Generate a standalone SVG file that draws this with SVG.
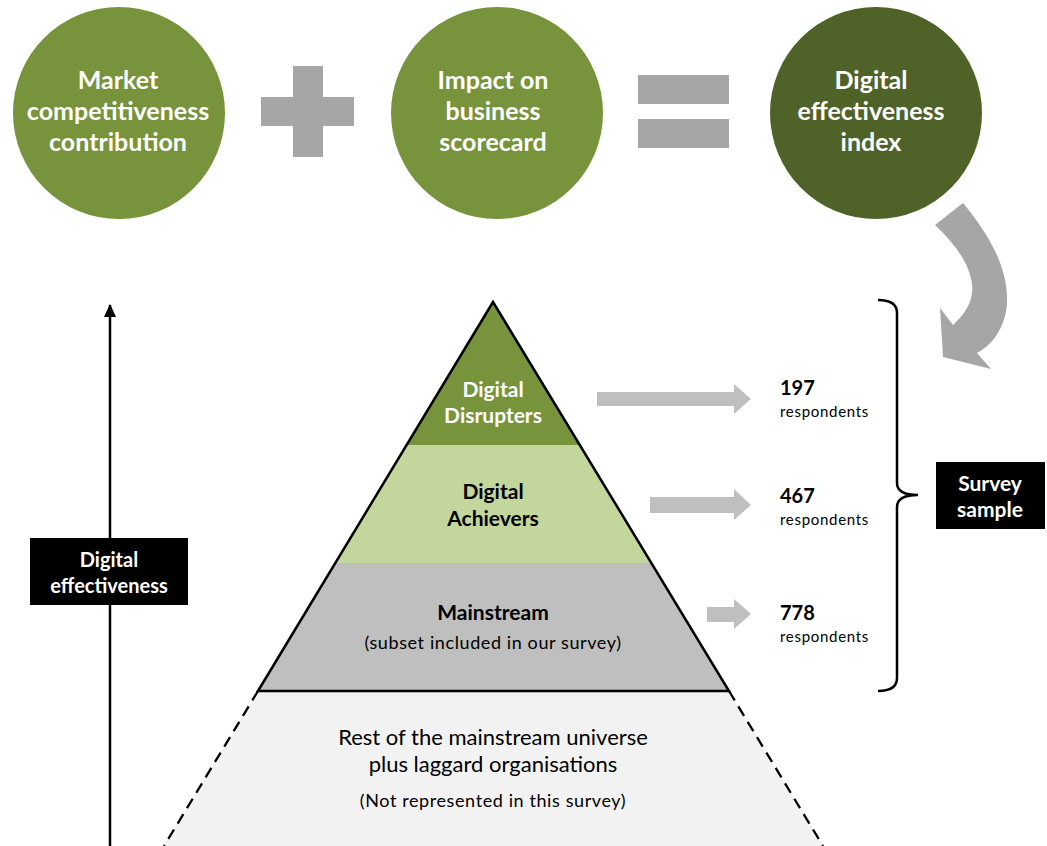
<svg xmlns="http://www.w3.org/2000/svg" width="1047" height="846" viewBox="0 0 1047 846">
<style>
.ct{font-family:Lato,"Liberation Sans",sans-serif;font-weight:bold;font-size:25px;fill:#fff;text-anchor:middle}
.pl{font-family:Lato,"Liberation Sans",sans-serif;text-anchor:middle}
.b{font-weight:bold}
.num{font-family:Lato,"Liberation Sans",sans-serif;font-weight:bold;font-size:20px;fill:#000}
.resp{font-family:Lato,"Liberation Sans",sans-serif;font-size:15px;letter-spacing:0.7px;fill:#000}
.gray{fill:#A6A6A6}
.blk{fill:#BFBFBF}
</style>
<defs>
<marker id="ah" markerWidth="14" markerHeight="12" refX="12" refY="6" orient="auto" markerUnits="userSpaceOnUse">
<path d="M0,0 L13,6 L0,12 Z" fill="#000"/>
</marker>
</defs>
<rect width="1047" height="846" fill="#fff"/>

<g id="circle-market">
<circle cx="119" cy="113" r="106" fill="#77933C"/>
<text class="ct" x="118" y="89">Market</text>
<text class="ct" x="118" y="120">competitiveness</text>
<text class="ct" x="118" y="151">contribution</text>
</g>
<g id="plus">
<rect class="gray" x="293" y="66" width="30" height="91"/>
<rect class="gray" x="261" y="97" width="93" height="29"/>
</g>
<g id="circle-impact">
<circle cx="497" cy="113" r="106" fill="#77933C"/>
<text class="ct" x="493" y="89">Impact on</text>
<text class="ct" x="493" y="120">business</text>
<text class="ct" x="493" y="151">scorecard</text>
</g>
<g id="equals">
<rect class="gray" x="638" y="75" width="91" height="29"/>
<rect class="gray" x="638" y="119" width="91" height="29"/>
</g>
<g id="circle-index">
<circle cx="876" cy="113" r="106" fill="#4F6228"/>
<text class="ct" x="871" y="89">Digital</text>
<text class="ct" x="871" y="120">effectiveness</text>
<text class="ct" x="871" y="151">index</text>
</g>
<g id="curved-arrow">
<path class="gray" d="M963,203 C992,238 1012,275 1006,312 C1001,334 990,346 977,353 L991,369 L943,357 L940,308 L953,325 C966,313 974,300 972,284 C969,262 954,243 935,225 Z"/>
</g>

<g id="lower-tier">
<path d="M258,691 L729,691 L823,846 L164,846 Z" fill="#F2F2F2"/>
<path d="M258,691 L164,846 M729,691 L823,846" stroke="#000" stroke-width="2.3" stroke-dasharray="11,7" fill="none"/>
<text class="pl" x="493" y="745" font-size="22">Rest of the mainstream universe</text>
<text class="pl" x="493" y="772" font-size="22">plus laggard organisations</text>
<text class="pl" x="493" y="807" font-size="18" letter-spacing="0.6">(Not represented in this survey)</text>
</g>

<g id="tier-mainstream">
<path d="M335,563 L652,563 L729,691 L258,691 Z" fill="#BFBFBF"/>
<text class="pl b" x="493" y="620" font-size="21">Mainstream</text>
<text class="pl" x="493" y="649" font-size="18" letter-spacing="0.6">(subset included in our survey)</text>
</g>
<g id="tier-achievers">
<path d="M406,445 L581,445 L652,563 L335,563 Z" fill="#C3D69B"/>
<text class="pl b" x="493" y="499" font-size="21">Digital</text>
<text class="pl b" x="493" y="526" font-size="21">Achievers</text>
</g>
<g id="tier-disrupters">
<path d="M493,302 L581,445 L406,445 Z" fill="#77933C"/>
<text class="pl b" x="493" y="397" font-size="21" fill="#fff">Digital</text>
<text class="pl b" x="493" y="423" font-size="21" fill="#fff">Disrupters</text>
</g>
<g id="pyramid-outline">
<path d="M258,691 L493,302 L729,691 Z" fill="none" stroke="#000" stroke-width="2.5" stroke-linejoin="miter"/>
</g>

<g id="connectors">
<path class="blk" d="M597,392 L734,392 L734,384 L751,399 L734,414 L734,406 L597,406 Z"/>
<path class="blk" d="M650,497 L734,497 L734,489 L751,505 L734,520 L734,513 L650,513 Z"/>
<path class="blk" d="M707,607 L734,607 L734,599 L751,614 L734,629 L734,622 L707,622 Z"/>
<line x1="110" y1="846" x2="110" y2="305" stroke="#000" stroke-width="2.5" marker-end="url(#ah)"/>
<path d="M878,300 Q897,300 897,313 L897,483 Q897,495 918,495 Q897,495 897,507 L897,678 Q897,691 878,691" fill="none" stroke="#000" stroke-width="2.5"/>
</g>

<g id="count-disrupters">
<text class="num" x="780" y="395">197</text>
<text class="resp" x="780" y="417">respondents</text>
</g>
<g id="count-achievers">
<text class="num" x="780" y="503">467</text>
<text class="resp" x="780" y="525">respondents</text>
</g>
<g id="count-mainstream">
<text class="num" x="780" y="620">778</text>
<text class="resp" x="780" y="642">respondents</text>
</g>

<g id="survey-sample">
<rect x="936" y="462" width="109" height="67" fill="#000"/>
<text class="pl b" x="990" y="491" font-size="21" fill="#fff">Survey</text>
<text class="pl b" x="990" y="517" font-size="21" fill="#fff">sample</text>
</g>
<g id="axis-label">
<rect x="30" y="538" width="158" height="67" fill="#000"/>
<text class="pl b" x="109" y="567" font-size="20" fill="#fff">Digital</text>
<text class="pl b" x="109" y="593" font-size="20" fill="#fff">effectiveness</text>
</g>
</svg>
